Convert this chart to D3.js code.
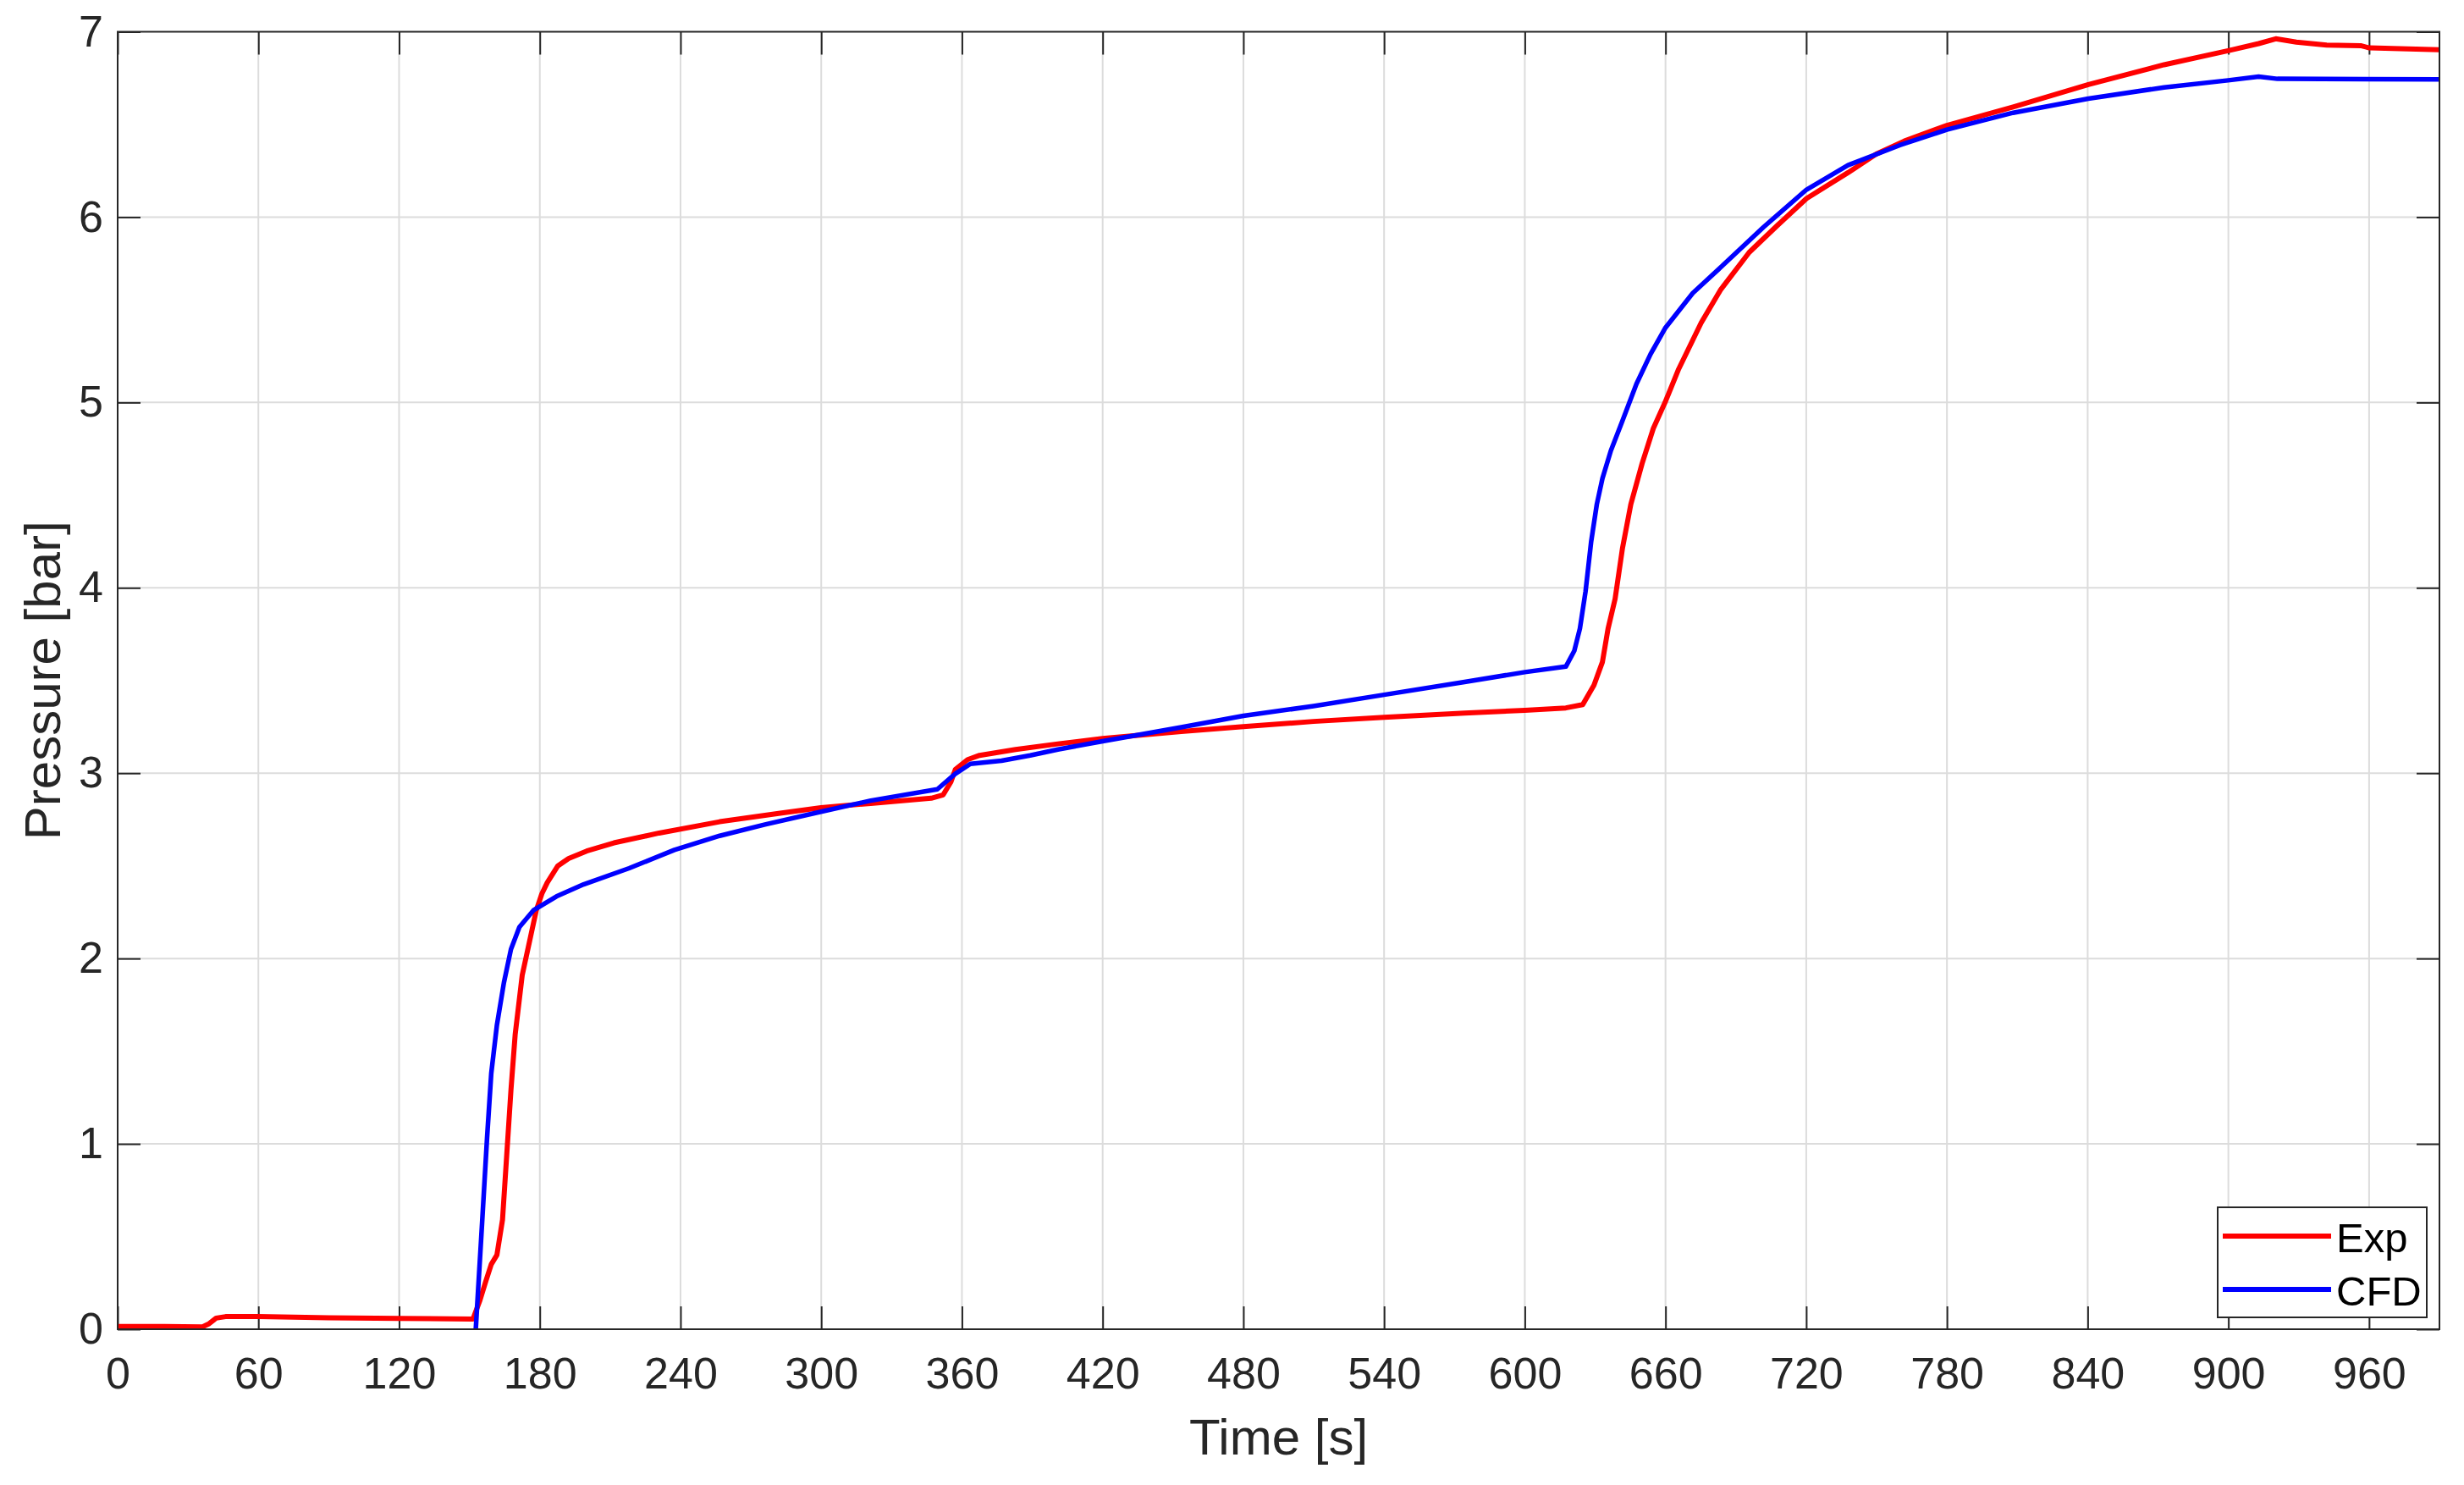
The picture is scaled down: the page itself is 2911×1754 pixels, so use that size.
<!DOCTYPE html>
<html>
<head>
<meta charset="utf-8">
<script src="https://cdn.jsdelivr.net/npm/d3@7"></script>
<style>
  html, body { margin: 0; padding: 0; background: #fff; }
  svg { display: block; }
  text { font-family: "Liberation Sans", Arial, Helvetica, sans-serif; }
</style>
</head>
<body>
<svg id="chart" width="2911" height="1754"></svg>
<script>
// ---- Data ----
const expTime = [0, 20, 36, 39, 42, 46, 60, 90, 120, 151.5, 154.5, 157, 159.3, 161.7, 164.1, 165.9, 167.7, 169.5, 172.5, 176.1, 178.5, 180.9, 183.2, 187.7, 192.3, 200, 211.6, 230.9, 256.7, 282.5, 299.9, 321.1, 346.9, 352, 355.3, 357.2, 362.4, 367.5, 382.9, 400.9, 420, 453.5, 480, 509.9, 540, 574.3, 600, 617.5, 624.7, 629.5, 633.1, 635.5, 638.5, 641.6, 645.2, 650, 654.8, 659.8, 665.6, 675.2, 683.6, 695.7, 707.7, 720.1, 737.8, 749.8, 761.8, 780, 808.2, 840.3, 872.6, 899.9, 912.9, 920.2, 929, 941.9, 956.4, 960.1, 989.9];
const expPressure = [0.015, 0.015, 0.012, 0.03, 0.06, 0.068, 0.068, 0.062, 0.058, 0.055, 0.157, 0.26, 0.35, 0.40, 0.59, 0.94, 1.29, 1.59, 1.91, 2.12, 2.26, 2.35, 2.41, 2.50, 2.54, 2.58, 2.624, 2.677, 2.738, 2.784, 2.814, 2.837, 2.865, 2.883, 2.953, 3.02, 3.073, 3.096, 3.128, 3.158, 3.187, 3.225, 3.251, 3.279, 3.301, 3.324, 3.339, 3.352, 3.37, 3.475, 3.60, 3.78, 3.94, 4.21, 4.45, 4.67, 4.86, 5.0, 5.18, 5.43, 5.61, 5.81, 5.955, 6.10, 6.24, 6.34, 6.41, 6.495, 6.594, 6.715, 6.822, 6.898, 6.936, 6.962, 6.944, 6.928, 6.925, 6.913, 6.903];

const cfdTime = [152.7, 155.1, 157.5, 159.3, 161.7, 164.7, 167.7, 171.3, 177.3, 187.1, 198.7, 218.1, 237.4, 256.7, 276, 299.9, 321.1, 349.5, 357.2, 363.6, 376.9, 389.1, 400.9, 420, 453.5, 480, 509.9, 540, 574.3, 600, 617.5, 621.1, 623.5, 625.9, 628.3, 630.7, 633.1, 636.7, 641.6, 647.6, 653.6, 659.8, 671.6, 683.6, 701.7, 720.1, 737.8, 759.9, 780, 808.2, 840.3, 872.6, 899.9, 912.9, 920.9, 989.9];
const cfdPressure = [0, 0.51, 1.03, 1.38, 1.64, 1.87, 2.05, 2.17, 2.26, 2.335, 2.40, 2.487, 2.586, 2.662, 2.723, 2.792, 2.852, 2.913, 2.997, 3.05, 3.067, 3.096, 3.128, 3.172, 3.248, 3.309, 3.362, 3.423, 3.492, 3.545, 3.575, 3.66, 3.78, 3.98, 4.25, 4.45, 4.59, 4.74, 4.90, 5.10, 5.26, 5.40, 5.59, 5.73, 5.945, 6.148, 6.28, 6.388, 6.472, 6.563, 6.639, 6.70, 6.738, 6.758, 6.746, 6.743];

const xTicks = [0, 60, 120, 180, 240, 300, 360, 420, 480, 540, 600, 660, 720, 780, 840, 900, 960];
const yTicks = [0, 1, 2, 3, 4, 5, 6, 7];
const seriesNames = ["Exp", "CFD"];
const seriesColors = ["#ff0000", "#0000ff"];
const xLabel = "Time [s]";
const yLabel = "Pressure [bar]";

// ---- Layout ----
const svg = d3.select("#chart");
const L = 139, R = 2882, T = 37.5, B = 1570;
const x = d3.scaleLinear().domain([0, 990]).range([L, R]);
const y = d3.scaleLinear().domain([0, 7]).range([B, T]);
const axisColor = "#262626";
const tickLen = 27;

svg.append("rect").attr("x", 0).attr("y", 0).attr("width", 2911).attr("height", 1754).attr("fill", "#fff");

svg.append("defs").append("clipPath").attr("id", "clip")
  .append("rect").attr("x", L).attr("y", T).attr("width", R - L).attr("height", B - T);

// Grid
const grid = svg.append("g").attr("stroke", "#dcdcdc").attr("stroke-width", 2);
grid.selectAll("line.gx").data(xTicks.filter(d => d > 0)).enter().append("line")
  .attr("x1", d => x(d)).attr("x2", d => x(d)).attr("y1", T).attr("y2", B);
grid.selectAll("line.gy").data(yTicks.filter(d => d > 0 && d < 7)).enter().append("line")
  .attr("x1", L).attr("x2", R).attr("y1", d => y(d)).attr("y2", d => y(d));

// Axes with d3 axis generators (inner ticks)
const fontSize = 52;
const xAxisB = d3.axisBottom(x).tickValues(xTicks).tickSizeInner(-tickLen).tickSizeOuter(0).tickPadding(33).tickFormat(d3.format("d"));
const xAxisT = d3.axisTop(x).tickValues(xTicks).tickSizeInner(-tickLen).tickSizeOuter(0).tickFormat("");
const yAxisL = d3.axisLeft(y).tickValues(yTicks).tickSizeInner(-tickLen).tickSizeOuter(0).tickPadding(17).tickFormat(d3.format("d"));
const yAxisR = d3.axisRight(y).tickValues(yTicks).tickSizeInner(-tickLen).tickSizeOuter(0).tickFormat("");

function styleAxis(g) {
  g.select(".domain").remove();
  g.selectAll(".tick line").attr("stroke", axisColor).attr("stroke-width", 2);
  g.selectAll(".tick text").attr("fill", axisColor).attr("font-size", fontSize)
    .attr("font-family", '"Liberation Sans", Arial, sans-serif');
}
svg.append("g").attr("transform", `translate(0,${B})`).call(xAxisB).call(styleAxis);
svg.append("g").attr("transform", `translate(0,${T})`).call(xAxisT).call(styleAxis);
svg.append("g").attr("transform", `translate(${L},0)`).call(yAxisL).call(styleAxis);
svg.append("g").attr("transform", `translate(${R},0)`).call(yAxisR).call(styleAxis);

// Lines
const line = d3.line().x(d => x(d[0])).y(d => y(d[1]));
const expData = expTime.map((t, i) => [t, expPressure[i]]);
const cfdData = cfdTime.map((t, i) => [t, cfdPressure[i]]);
const plot = svg.append("g").attr("clip-path", "url(#clip)");
plot.append("path").datum(expData).attr("d", line).attr("fill", "none")
  .attr("stroke", seriesColors[0]).attr("stroke-width", 6).attr("stroke-linejoin", "round");
plot.append("path").datum(cfdData).attr("d", line).attr("fill", "none")
  .attr("stroke", seriesColors[1]).attr("stroke-width", 5.5).attr("stroke-linejoin", "round");

// Frame
svg.append("rect").attr("x", L).attr("y", T).attr("width", R - L).attr("height", B - T)
  .attr("fill", "none").attr("stroke", axisColor).attr("stroke-width", 2);

// Axis labels
svg.append("text").attr("x", (L + R) / 2).attr("y", 1718).attr("text-anchor", "middle")
  .attr("font-size", 60).attr("fill", axisColor).text(xLabel);
svg.append("text").attr("transform", `translate(71,${(T + B) / 2}) rotate(-90)`)
  .attr("text-anchor", "middle").attr("font-size", 60).attr("fill", axisColor).text(yLabel);

// Legend
const lg = svg.append("g");
lg.append("rect").attr("x", 2620).attr("y", 1426).attr("width", 247).attr("height", 130)
  .attr("fill", "#fff").attr("stroke", axisColor).attr("stroke-width", 2);
const legendRows = [1460, 1523];
seriesNames.forEach((name, i) => {
  lg.append("line").attr("x1", 2626).attr("x2", 2754).attr("y1", legendRows[i]).attr("y2", legendRows[i])
    .attr("stroke", seriesColors[i]).attr("stroke-width", 6);
  lg.append("text").attr("x", 2760).attr("y", legendRows[i] + 19).attr("font-size", 49)
    .attr("fill", "#000").text(name);
});
</script>
</body>
</html>
